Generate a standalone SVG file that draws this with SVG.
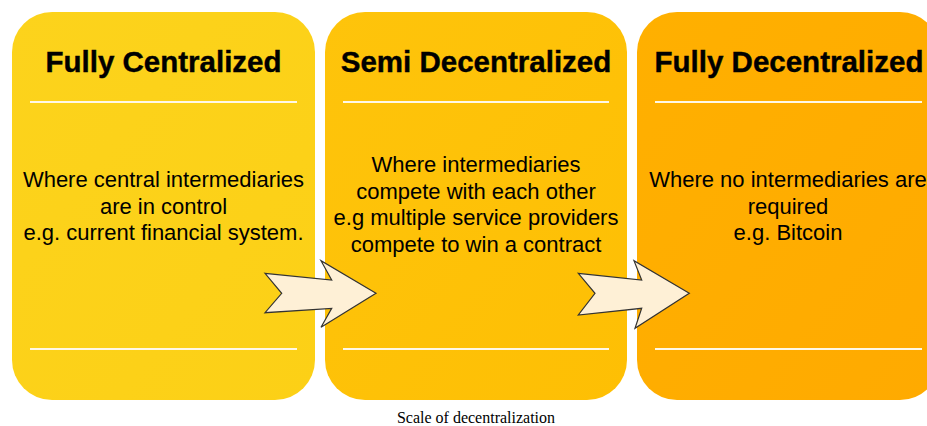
<svg xmlns="http://www.w3.org/2000/svg" width="927" height="426" viewBox="0 0 927 426">
  <style>
    .title { font-family: "Liberation Sans", Arial, sans-serif; font-weight: bold; font-size: 29.5px; fill: #000; stroke: #000; stroke-width: 0.4; text-anchor: middle; }
    .body { font-family: "Liberation Sans", Arial, sans-serif; font-size: 22px; fill: #000; text-anchor: middle; }
    .sep { stroke: #FFF8E6; stroke-width: 2; }
    .arrow { fill: #FEF0D6; stroke: #333; stroke-width: 1.2; stroke-linejoin: miter; }
    .caption { font-family: "Liberation Serif", "Times New Roman", serif; font-size: 16px; fill: #000; text-anchor: middle; }
  </style>
  <defs>
    <linearGradient id="g1" x1="0" y1="0" x2="1" y2="1">
      <stop offset="0" stop-color="#FCD31C"/>
      <stop offset="1" stop-color="#FCD016"/>
    </linearGradient>
    <linearGradient id="g2" x1="0" y1="0" x2="1" y2="1">
      <stop offset="0" stop-color="#FEC40B"/>
      <stop offset="1" stop-color="#FEBF04"/>
    </linearGradient>
    <linearGradient id="g3" x1="0" y1="0" x2="1" y2="1">
      <stop offset="0" stop-color="#FFB000"/>
      <stop offset="1" stop-color="#FFAA00"/>
    </linearGradient>
  </defs>
  <rect width="927" height="426" fill="#FFFFFF"/>

  <g id="node-fully-centralized">
    <rect x="12" y="12" width="303" height="388" rx="40" ry="40" fill="url(#g1)"/>
    <text class="title" x="163.5" y="72">Fully Centralized</text>
    <line class="sep" x1="30" y1="102" x2="297" y2="102"/>
    <text class="body" x="163.5" y="187">Where central intermediaries</text>
    <text class="body" x="163.5" y="213.5">are in control</text>
    <text class="body" x="163.5" y="240">e.g. current financial system.</text>
    <line class="sep" x1="30" y1="349" x2="297" y2="349"/>
  </g>

  <g id="node-semi-decentralized">
    <rect x="325" y="12" width="302" height="388" rx="40" ry="40" fill="url(#g2)"/>
    <text class="title" x="476" y="72">Semi Decentralized</text>
    <line class="sep" x1="343" y1="102" x2="609" y2="102"/>
    <text class="body" x="476" y="172">Where intermediaries</text>
    <text class="body" x="476" y="198.5">compete with each other</text>
    <text class="body" x="476" y="225">e.g multiple service providers</text>
    <text class="body" x="476" y="251.5">compete to win a contract</text>
    <line class="sep" x1="343" y1="349" x2="609" y2="349"/>
  </g>

  <g id="node-fully-decentralized">
    <rect x="637" y="12" width="303" height="388" rx="40" ry="40" fill="url(#g3)"/>
    <text class="title" x="789" y="72">Fully Decentralized</text>
    <line class="sep" x1="655" y1="102" x2="922" y2="102"/>
    <text class="body" x="788" y="187">Where no intermediaries are</text>
    <text class="body" x="788" y="213.5">required</text>
    <text class="body" x="788" y="240">e.g. Bitcoin</text>
    <line class="sep" x1="655" y1="349" x2="922" y2="349"/>
  </g>

  <g id="connectors">
    <polygon class="arrow" points="265,273.3 331.7,280 321,260.7 376,293.3 321,327.3 331.7,308.3 265,312.7 281.7,293.3"/>
    <polygon class="arrow" points="578.3,273.3 641.7,280 634,260.7 689.3,293.3 635,328.3 641.7,308.3 578.3,315 595,293.3"/>
  </g>

  <text class="caption" x="476" y="423">Scale of decentralization</text>
</svg>
